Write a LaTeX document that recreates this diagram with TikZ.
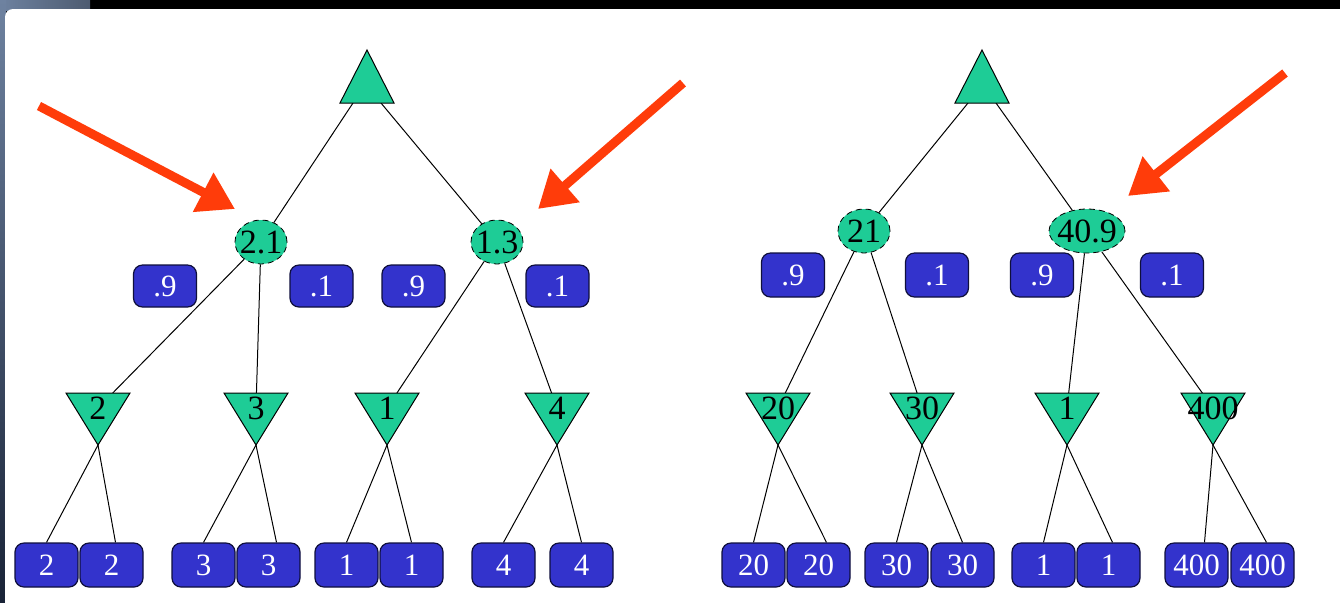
\documentclass[tikz,border=0pt]{standalone}
\usepackage{fontspec}
\setmainfont{Liberation Serif}
\usetikzlibrary{shapes.geometric,arrows.meta}
\definecolor{tgreen}{RGB}{30,204,150}
\definecolor{tblue}{RGB}{51,51,204}
\definecolor{tborder}{RGB}{15,15,60}
\definecolor{tred}{RGB}{255,60,10}
\definecolor{sidegray}{RGB}{110,130,160}
\definecolor{sidedark}{RGB}{25,35,55}
\pgfdeclarelayer{back}
\pgfdeclarelayer{edges}
\pgfsetlayers{back,edges,main}
\tikzset{
  valbox/.style={rectangle, rounded corners=4.5pt, fill=tblue, draw=tborder, line width=0.6pt,
    text=white, minimum width=31.5pt, minimum height=21pt, inner sep=0pt,
    font=\fontsize{15.5}{15.5}\selectfont},
  leafbox/.style={valbox, minimum height=22pt},
  chance/.style={ellipse, fill=tgreen, draw=black, densely dashed, line width=0.4pt,
    inner sep=0pt, minimum height=22pt, minimum width=26pt, font=\fontsize{17}{17}\selectfont},
  trishape/.style={fill=tgreen, draw=black, line width=0.5pt, line join=miter},
  trilabel/.style={inner sep=0.5pt, font=\fontsize{17}{17}\selectfont},
  edge/.style={draw=black, line width=0.5pt},
  hint/.style={draw=tred, line width=4.5pt, -{Triangle[length=18pt,width=21pt]}},
}
\newcommand\MinTri[3]{%
  \draw[trishape] (#2-32,393) -- (#2+32,393) -- (#2,445) -- cycle;
  \node[trilabel] (#1) at (#2,408) {#3};
  \coordinate (#1a) at (#2,445);}
\newcommand\MaxTri[2]{%
  \draw[trishape] (#2,50) -- (#2+27,103) -- (#2-27,103) -- cycle;
  \coordinate (#1l) at (#2-14,103);
  \coordinate (#1r) at (#2+14,103);}
\newcommand\ZW[1]{\makebox[0pt]{#1}}
\begin{document}
\begin{tikzpicture}[x=0.5pt,y=-0.5pt]
\useasboundingbox (0,0) rectangle (1340,602);
\begin{pgfonlayer}{back}
  \begin{scope}
    \clip (0,0) rectangle (1340,602);
    \fill[black] (0,0) rectangle (1340,602);
    \shade[left color=sidegray, right color=sidegray!70!black] (0,0) rectangle (90,10);
    \shade[top color=sidegray, bottom color=sidedark] (0,0) rectangle (6,602);
    \fill[white, rounded corners=4pt] (5,620) rectangle (1360,9);
  \end{scope}
\end{pgfonlayer}

% ---------- left tree ----------
\MaxTri{LR}{367}
\node[chance] (c1) at (261,242) {\ZW{2.1}};
\node[chance] (c2) at (497,242) {\ZW{1.3}};
\node[valbox] (p1) at (165,286) {.9};
\node[valbox] (p2) at (321.5,286) {.1};
\node[valbox] (p3) at (413.5,286) {.9};
\node[valbox] (p4) at (557.5,286) {.1};
\MinTri{m1}{98}{2}
\MinTri{m2}{256}{3}
\MinTri{m3}{387}{1}
\MinTri{m4}{557}{4}
\node[leafbox] (l1) at (46.5,565) {2};
\node[leafbox] (l2) at (111.5,565) {2};
\node[leafbox] (l3) at (203.5,565) {3};
\node[leafbox] (l4) at (268.5,565) {3};
\node[leafbox] (l5) at (346.5,565) {1};
\node[leafbox] (l6) at (411.5,565) {1};
\node[leafbox] (l7) at (503.5,565) {4};
\node[leafbox] (l8) at (581.5,565) {4};

% ---------- right tree ----------
\MaxTri{RR}{982}
\node[chance] (d1) at (864,231) {\ZW{21}};
\node[chance, minimum width=38pt] (d2) at (1087,231) {\ZW{40.9}};
\node[valbox, minimum height=22pt] (q1) at (793,275) {.9};
\node[valbox, minimum height=22pt] (q2) at (937,275) {.1};
\node[valbox, minimum height=22pt] (q3) at (1042,275) {.9};
\node[valbox, minimum height=22pt] (q4) at (1172,275) {.1};
\MinTri{n1}{778}{20}
\MinTri{n2}{922}{30}
\MinTri{n3}{1067}{1}
\MinTri{n4}{1213}{400}
\node[leafbox] (k1) at (753.5,565) {20};
\node[leafbox] (k2) at (818.5,565) {20};
\node[leafbox] (k3) at (896.5,565) {30};
\node[leafbox] (k4) at (962.5,565) {30};
\node[leafbox] (k5) at (1043.5,565) {1};
\node[leafbox] (k6) at (1108.5,565) {1};
\node[leafbox] (k7) at (1196.5,565) {400};
\node[leafbox] (k8) at (1262.5,565) {400};

% ---------- edges ----------
\begin{pgfonlayer}{edges}
  \draw[edge] (LRl) -- (c1);
  \draw[edge] (LRr) -- (c2);
  \draw[edge] (c1) -- (m1);
  \draw[edge] (c1) -- (m2);
  \draw[edge] (c2) -- (m3);
  \draw[edge] (c2) -- (m4);
  \draw[edge] (m1a) -- (l1.north);
  \draw[edge] (m1a) -- ([xshift=2pt]l2.north);
  \draw[edge] (m2a) -- (l3.north);
  \draw[edge] (m2a) -- ([xshift=4pt]l4.north);
  \draw[edge] (m3a) -- (l5.north);
  \draw[edge] (m3a) -- (l6.north);
  \draw[edge] (m4a) -- (l7.north);
  \draw[edge] (m4a) -- (l8.north);
  \draw[edge] (RRl) -- (d1);
  \draw[edge] (RRr) -- (d2);
  \draw[edge] (d1) -- (n1);
  \draw[edge] (d1) -- (n2);
  \draw[edge] (d2) -- (n3);
  \draw[edge] (d2) -- (n4);
  \draw[edge] (n1a) -- (k1.north);
  \draw[edge] (n1a) -- ([xshift=4pt]k2.north);
  \draw[edge] (n2a) -- (k3.north);
  \draw[edge] (n2a) -- (k4.north);
  \draw[edge] (n3a) -- (k5.north);
  \draw[edge] (n3a) -- ([xshift=2pt]k6.north);
  \draw[edge] (n4a) -- ([xshift=4pt]k7.north);
  \draw[edge] (n4a) -- ([xshift=2pt]k8.north);
\end{pgfonlayer}

% ---------- red arrows ----------
\coordinate (a1s) at (39,106);
\coordinate (a1e) at (235,209);
\coordinate (a2s) at (683,83);
\coordinate (a2e) at (538,209);
\coordinate (a3s) at (1285,73);
\coordinate (a3e) at (1128,196);
\draw[hint] (a1s) -- (a1e);
\draw[hint] (a2s) -- (a2e);
\draw[hint] (a3s) -- (a3e);
\end{tikzpicture}
\end{document}
